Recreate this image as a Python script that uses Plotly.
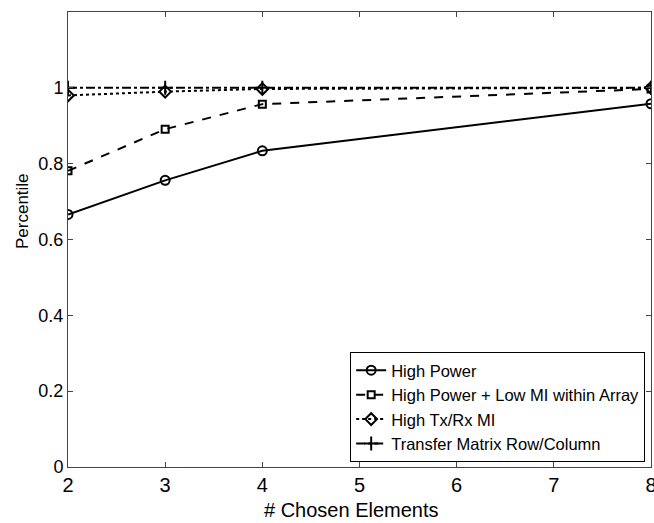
import plotly.graph_objects as go

x_vals = [2, 3, 4, 8]
high_power = [0.666, 0.756, 0.834, 0.958]
hp_low_mi = [0.781, 0.891, 0.957, 0.997]
high_txrx = [0.980, 0.990, 0.997, 1.0]
transfer = [1.0, 1.0, 1.0, 1.0]

names = ["High Power", "High Power + Low MI within Array", "High Tx/Rx MI", "Transfer Matrix Row/Column"]
series = [high_power, hp_low_mi, high_txrx, transfer]
dashes = ["solid", "dash", "dot", "dashdot"]
symbols = ["circle-open", "square-open", "diamond-open", "cross-thin-open"]
msizes = [9, 7, 9, 10]

y_ticks = [0, 0.2, 0.4, 0.6, 0.8, 1]
y_ticktext = ["0", "0.2", "0.4", "0.6", "0.8", "1"]
x_ticks = [2, 3, 4, 5, 6, 7, 8]
x_title = "# Chosen Elements"
y_title = "Percentile"

FONT = "Liberation Sans, Arial, Helvetica, sans-serif"

fig = go.Figure()
for n, s, d, sym, ms in zip(names, series, dashes, symbols, msizes):
    fig.add_trace(go.Scatter(
        x=x_vals, y=s, name=n, mode="lines+markers",
        line=dict(color="black", width=2, dash=d),
        marker=dict(symbol=sym, size=ms, color="black", line=dict(width=2, color="black")),
    ))

axis_common = dict(showline=True, linecolor="#444", linewidth=1, mirror="ticks",
                   ticks="inside", ticklen=5, tickcolor="#444", showgrid=False, zeroline=False,
                   automargin=False, ticklabeloverflow="allow")

fig.update_layout(
    width=654, height=523,
    margin=dict(l=68, r=3, t=12, b=56),
    paper_bgcolor="white", plot_bgcolor="white",
    font=dict(family=FONT, color="black"),
    xaxis=dict(range=[2, 8.0001], tickvals=x_ticks,
               tickfont=dict(family=FONT, size=20, color="black"), **axis_common),
    yaxis=dict(range=[0, 1.2], tickvals=y_ticks, ticktext=y_ticktext,
               tickfont=dict(family=FONT, size=18, color="black"), **axis_common),
    legend=dict(x=0.99, y=0.011, xanchor="right", yanchor="bottom",
                bgcolor="white", bordercolor="black", borderwidth=1,
                font=dict(size=16.5, color="black"), tracegroupgap=0, itemwidth=30),
    showlegend=True,
    annotations=[
        dict(text=x_title, xref="paper", yref="paper", x=0.487, y=-0.0945,
             xanchor="center", yanchor="middle", showarrow=False,
             font=dict(family=FONT, size=20, color="black")),
        dict(text=y_title, xref="paper", yref="paper", x=-0.0789, y=0.5626,
             xanchor="center", yanchor="middle", showarrow=False, textangle=-90,
             font=dict(family=FONT, size=17, color="black")),
    ],
)

fig.write_html("out.html", post_script="document.body.style.margin='0';",
               config={"displayModeBar": False})
